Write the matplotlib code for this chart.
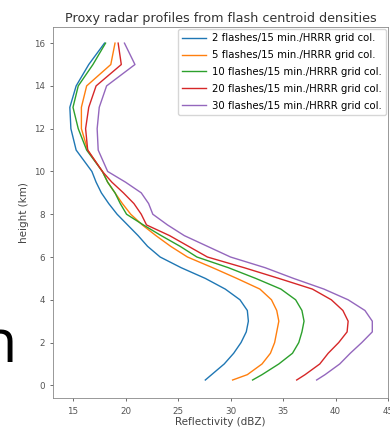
import matplotlib
matplotlib.use("Agg")
import matplotlib.pyplot as plt

# heights of the profile levels (km)
heights = [0.25, 0.5, 1, 1.5, 2, 2.5, 3, 3.5, 4, 4.5, 5, 5.5, 6, 6.5, 7, 7.5,
           8, 8.5, 9, 9.5, 10, 11, 12, 13, 14, 15, 16]

# proxy reflectivity (dBZ) for each flash density
refl_2 = [27.6, 28.2, 29.4, 30.3, 31.0, 31.5, 31.7, 31.6, 30.9, 29.5, 27.6, 25.3, 23.3, 22.1,
          21.2, 20.2, 19.2, 18.4, 17.7, 17.2, 16.8, 15.3, 14.8, 14.7, 15.3, 16.5, 18.0]
refl_5 = [30.2, 31.6, 33.0, 33.8, 34.2, 34.4, 34.6, 34.4, 33.9, 32.8, 30.6, 28.3, 25.9, 24.3,
          22.9, 21.6, 20.5, 19.7, 19.0, 18.3, 17.8, 16.4, 15.8, 15.8, 16.3, 18.6, 19.0]
refl_10 = [32.1, 33.0, 34.6, 35.9, 36.5, 36.8, 37.0, 36.8, 36.2, 34.8, 32.4, 29.8, 26.8, 25.2,
           23.4, 21.7, 20.1, 19.5, 19.0, 18.3, 17.8, 16.3, 15.5, 15.0, 15.5, 16.9, 18.1]
refl_20 = [36.3, 37.1, 38.5, 39.3, 40.3, 41.1, 41.2, 40.7, 39.6, 37.8, 34.6, 31.3, 27.8, 26.0,
           24.2, 22.0, 21.5, 20.8, 19.8, 18.7, 17.8, 16.4, 16.2, 16.5, 17.2, 19.6, 19.3]
refl_30 = [38.2, 39.0, 40.4, 41.4, 42.5, 43.5, 43.5, 42.8, 41.2, 38.9, 36.0, 33.3, 30.0, 27.8,
           25.6, 24.0, 22.6, 22.2, 21.5, 20.0, 18.3, 17.4, 17.3, 17.5, 18.2, 20.9, 19.9]

labels = ["2 flashes/15 min./HRRR grid col.",
          "5 flashes/15 min./HRRR grid col.",
          "10 flashes/15 min./HRRR grid col.",
          "20 flashes/15 min./HRRR grid col.",
          "30 flashes/15 min./HRRR grid col."]

fig = plt.figure(figsize=(3.9, 4.3), dpi=100)
ax = fig.add_axes([0.136, 0.074, 0.859, 0.863])

for refl, lab in zip([refl_2, refl_5, refl_10, refl_20, refl_30], labels):
    ax.plot(refl, heights, lw=1.0, label=lab)

ax.set_xlim(13.1, 45.0)
ax.set_ylim(-0.6, 16.75)
ax.set_xticks([15, 20, 25, 30, 35, 40, 45])
ax.set_yticks([0, 2, 4, 6, 8, 10, 12, 14, 16])
ax.tick_params(labelsize=6.3, length=2.5, width=0.6, colors='#555555')
for s in ax.spines.values():
    s.set_linewidth(0.6)
    s.set_color('#888888')

ax.set_xlabel("Reflectivity (dBZ)", fontsize=7.5, color='#444444', labelpad=1)
ax.set_ylabel("height (km)", fontsize=7.5, color='#444444', labelpad=3)
ax.set_title("Proxy radar profiles from flash centroid densities", fontsize=9.2,
             color='#333333', pad=4)
ax.legend(loc='upper right', fontsize=7.3, handlelength=2.4, labelspacing=0.68,
          borderaxespad=0.2, borderpad=0.4, handletextpad=0.6, framealpha=0.8)

# stray glyph at left edge of the source image
fig.text(0.045, 0.158, "n", fontsize=44, ha='right', va='baseline', family='Open Sans')

fig.savefig("out.png", dpi=100)
